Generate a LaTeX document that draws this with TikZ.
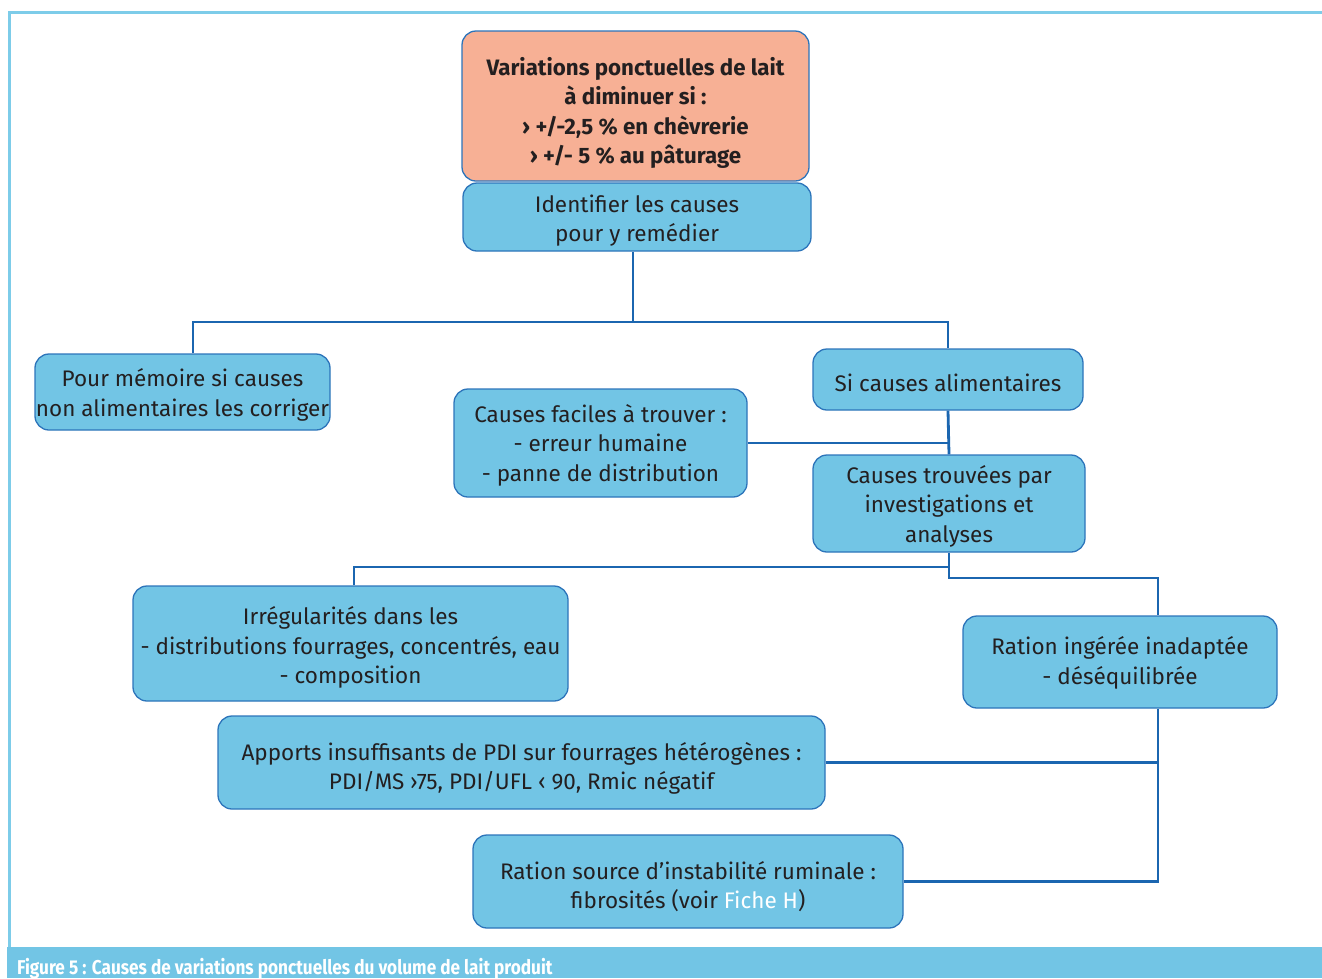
\documentclass[tikz,border=0pt]{standalone}
\usepackage{fontspec}
\setmainfont{Fira Sans}
\newfontfamily\capfont[FakeStretch=0.86]{Fira Sans}
\usetikzlibrary{positioning}
\definecolor{boxfill}{HTML}{72C5E5}
\definecolor{boxline}{HTML}{2C74BA}
\definecolor{topfill}{HTML}{F7B095}
\definecolor{linkc}{HTML}{1B66B0}
\definecolor{framec}{HTML}{7DCCE9}
\definecolor{txt}{HTML}{231F20}
% invisible strut on a first line, to lower a text block inside its box
\newcommand\dn[1]{\rule{0pt}{#1pt}}
\tikzset{
  box/.style={draw=boxline, fill=boxfill, line width=1.3pt, rounded corners=14pt,
    align=center, inner sep=0pt, text=txt,
    font=\fontsize{22.5}{29.5}\selectfont},
  topbox/.style={box, fill=topfill, font=\fontsize{22.3}{29.5}\selectfont\bfseries},
  link/.style={draw=linkc, line width=2.8pt},
}
\begin{document}
\begin{tikzpicture}[x=1pt, y=-1pt]
\useasboundingbox (0,0) rectangle (1322,978);
% outer frame and caption band
\draw[framec, line width=3pt] (9,947) -- (9,12) -- (1322,12);
\fill[boxfill] (7,947) rectangle (1322,978);
\node[anchor=base west, text=white, inner sep=0pt,
      font=\capfont\fontsize{20}{22}\selectfont\bfseries] (caption) at (17,974)
  {Figure 5 : Causes de variations ponctuelles du volume de lait produit};

% boxes
\node[topbox, minimum width=347pt, minimum height=150pt] (top) at (635.5,106)
  {\dn{32}Variations ponctuelles de lait\\à diminuer si :\\› +/-2,5 \% en chèvrerie\\› +/- 5 \% au pâturage};
\node[box, minimum width=348pt, minimum height=68pt] (ident) at (637,217)
  {\dn{25}Identifier les causes\\pour y remédier};
\node[box, minimum width=295pt, minimum height=76pt] (pour) at (182.5,392)
  {\dn{24}Pour mémoire si causes\\non alimentaires les corriger};
\node[box, minimum width=270pt, minimum height=61pt] (si) at (948,379.5)
  {\dn{24}Si causes alimentaires};
\node[box, minimum width=293pt, minimum height=108pt] (faciles) at (600.5,443)
  {\dn{22}Causes faciles à trouver :\\- erreur humaine\\- panne de distribution};
\node[box, minimum width=272pt, minimum height=97pt] (trouvees) at (949,503.5)
  {\dn{23}Causes trouvées par\\investigations et\\analyses};
\node[box, minimum width=435pt, minimum height=115pt] (irreg) at (350.5,643.5)
  {\dn{26}Irrégularités dans les\\- distributions fourrages, concentrés, eau\\- composition};
\node[box, minimum width=314pt, minimum height=92pt] (ration) at (1120,662)
  {\dn{20}Ration ingérée inadaptée\\- déséquilibrée};
\node[box, minimum width=607pt, minimum height=93pt] (apports) at (521.5,762.5)
  {\dn{30}Apports insuffisants de PDI sur fourrages hétérogènes :\\PDI/MS ›75, PDI/UFL ‹ 90, Rmic négatif};
\node[box, minimum width=430pt, minimum height=93pt] (source) at (688,881.5)
  {\dn{28}Ration source d’instabilité ruminale :\\fibrosités (voir \textcolor{white}{Fiche H})};

% connectors
\coordinate (j1) at (633,322);
\coordinate (p1) at (193,322);
\draw[link] (j1 |- ident.south) -- (j1);
\draw[link] (p1 |- pour.north) -- (p1) -| (si.north);
\draw[link] (si.south) -- (trouvees.north);
\draw[link] (faciles.east) -- (faciles.east -| si.south);
\coordinate (j2) at (949,567);
\coordinate (i1) at (354,567);
\coordinate (bus) at (1158,578);
\draw[link] (trouvees.south) -- (trouvees.south |- bus) -- (bus) -- (bus |- ration.north);
\draw[link] (i1 |- irreg.north) -- (i1) -- (j2);
\draw[link] (bus |- ration.south) |- (source.east);
\draw[link] (apports.east) -- (apports.east -| bus);
\end{tikzpicture}
\end{document}
